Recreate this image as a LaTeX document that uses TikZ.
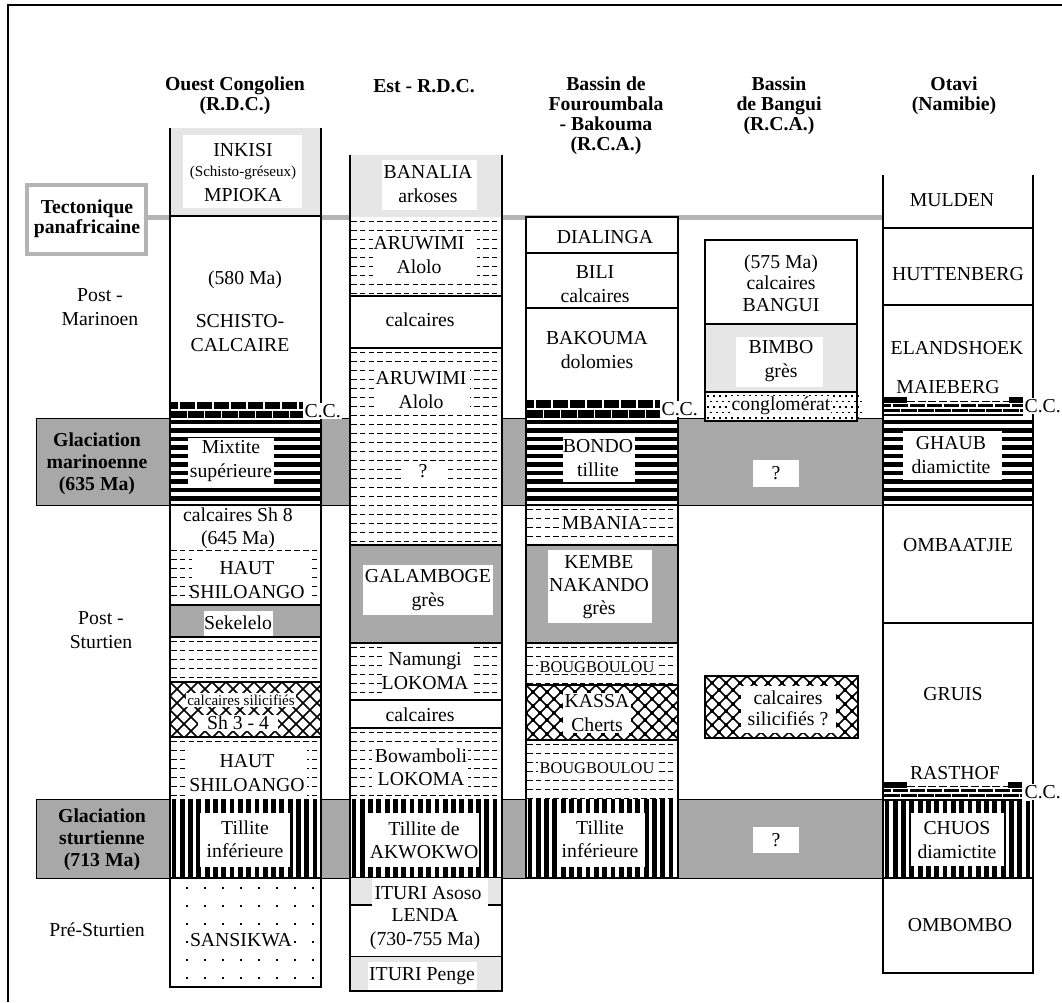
\documentclass[tikz,border=0pt]{standalone}
\usepackage{fontspec}
\setmainfont{Liberation Serif}
\definecolor{ggray}{HTML}{A8A8A8}
\definecolor{mgray}{HTML}{A9A9A9}
\definecolor{lgray}{HTML}{E6E6E6}
\definecolor{tgray}{HTML}{B4B4B4}
\tikzset{
 txt/.style={font=\fontsize{14.8}{17.5}\selectfont, align=center, inner sep=0.5pt},
 txtb/.style={font=\fontsize{14.8}{16}\selectfont, align=center, inner sep=0.5pt},
 smalltxt/.style={font=\fontsize{11.3}{13}\selectfont, align=center, inner sep=0.5pt},
 smalltxtb/.style={font=\fontsize{12.3}{14}\selectfont, align=center, inner sep=1pt},
 head/.style={font=\fontsize{14.8}{15}\selectfont\bfseries, align=center, inner sep=0.5pt},
 glab/.style={font=\fontsize{14.8}{16.5}\selectfont\bfseries, align=center, inner sep=0.5pt},
 lyr/.style={line width=0.8pt},
 ccl/.style={txt, fill=white, anchor=west, inner sep=1pt},
}
% shale: rows of dashes
\newcommand{\myshale}[4]{%
 \begin{scope}
 \clip (#1,#2) rectangle (#3,#4);
 \foreach \k in {0,...,24}{%
  \draw[line width=1.3pt, dash pattern=on 4.2pt off 2.4pt] ({#1+1},{#2+4.5+\k*9}) -- (#3,{#2+4.5+\k*9});
 }
 \end{scope}}
% horizontal black stripes
\newcommand{\myhstripes}[4]{%
 \begin{scope}
 \clip (#1,#2) rectangle (#3,#4);
 \foreach \k in {0,...,14}{\fill ({#1},{#2+1.5+\k*8.5}) rectangle ({#3},{#2+6.2+\k*8.5});}
 \end{scope}}
% vertical black stripes
\newcommand{\myvstripes}[4]{%
 \begin{scope}
 \clip (#1,#2) rectangle (#3,#4);
 \foreach \k in {0,...,20}{\fill ({#1+1.5+\k*8.3},{#2}) rectangle ({#1+6.3+\k*8.3},{#4});}
 \end{scope}}
% crosshatch
\newcommand{\myxhatch}[5]{%
 \begin{scope}
 \clip (#1,#2) rectangle (#3,#4);
 \foreach \k in {-8,...,20}{%
  \draw[line width=1.1pt] ({#1+\k*#5},{#2}) -- ++(200,200);
  \draw[line width=1.1pt] ({#1+\k*#5},{#2}) -- ++(-200,200);}
 \end{scope}}
% crosshatch with dots at nodes
\newcommand{\myxlat}[5]{%
 \myxhatch{#1}{#2}{#3}{#4}{#5}
 \begin{scope}
 \clip (#1,#2) rectangle (#3,#4);
 \foreach \k in {0,...,10}{\foreach \m in {0,...,12}{%
  \fill ({#1+(2*\m+mod(\k,2))*#5/2-1.8},{#2+\k*#5/2-1.8}) rectangle ++(3.6,3.6);}}
 \end{scope}}
% limestone bricks
\newcommand{\mylime}[4]{%
 \begin{scope}
 \clip (#1,#2) rectangle (#3,#4);
 \fill (#1,#2) rectangle (#3,#4);
 \draw[white, line width=0.8pt] (#1,{(#2+#4)/2}) -- (#3,{(#2+#4)/2});
 \foreach \k in {0,...,12}{%
  \draw[white, line width=0.8pt] ({#1+9+\k*17},{#2}) -- ({#1+9+\k*17},{(#2+#4)/2});
  \draw[white, line width=0.8pt] ({#1+17.5+\k*17},{(#2+#4)/2}) -- ({#1+17.5+\k*17},{#4});}
 \end{scope}}
% Otavi cap carbonate
\newcommand{\myotlime}[3]{% x1 y1 x2
 \fill (#1,#2) rectangle ({#1+24},{#2+6});
 \fill ({#3-14},#2) rectangle (#3,{#2+6});
 \draw[line width=1pt, dash pattern=on 6pt off 2pt] ({#1+24},{#2+4.5}) -- ({#3-14},{#2+4.5});
 \mylime{#1}{#2+7}{#3}{#2+15}
 \draw[line width=0.9pt] (#1,{#2+18}) -- (#3,{#2+18});
}
\begin{document}
\begin{tikzpicture}[x=0.75pt,y=-0.75pt]
\useasboundingbox (0,0) rectangle (1062,1002);
\fill[white] (0,0) rectangle (1062,1002);
\draw[line width=1.8pt] (8,1002) -- (8,5) -- (1062,5);

% headers
\node[head] (h1) at (235,96) {Ouest Congolien\\(R.D.C.)};
\node[head] (h2) at (424,86) {Est - R.D.C.};
\node[head] (h3) at (606,116) {Bassin de\\Fouroumbala\\- Bakouma\\(R.C.A.)};
\node[head] (h4) at (779,106) {Bassin\\de Bangui\\(R.C.A.)};
\node[head] (h5) at (954,96) {Otavi\\(Namibie)};

% side labels
\node[txt] (pm) at (100,307) {Post -\\Marinoen};
\node[txt] (ps) at (101,630) {Post -\\Sturtien};
\node[txt] (prs) at (97,930) {Pré-Sturtien};

% tectonique
\draw[tgray, line width=3.75pt] (148,217) -- (883,217);
\draw[tgray, line width=3pt, fill=white] (27,185) rectangle (146,254);
\node[head] (tect) at (87,219) {Tectonique\\panafricaine};

% glaciation bands
\filldraw[fill=ggray, line width=0.75pt] (36,418) rectangle (883,505);
\node[glab] (gm) at (97,464) {Glaciation\\marinoenne\\(635 Ma)};
\filldraw[fill=ggray, line width=0.75pt] (36,799) rectangle (883,878);
\node[glab] (gs) at (102,840) {Glaciation\\sturtienne\\(713 Ma)};

% ===== Column 1 =====
\fill[white] (170,128) rectangle (321,987);
\fill[lgray] (170,128) rectangle (321,216);
\fill[white] (183,135) rectangle (302,208);
\node[txt] (inkisi) at (243,150) {INKISI};
\node[smalltxt] (sg) at (243,173) {(Schisto-gréseux)};
\node[txt] (mpioka) at (243,195) {MPIOKA};
\draw[lyr] (170,216) -- (321,216);
\node[txt] (ma580) at (245,280) {(580 Ma)};
\node[txt] (schc) at (240,333) {SCHISTO-\\CALCAIRE};
\mylime{170}{402}{303}{418}
\myhstripes{170}{418}{321}{505}
\fill[white] (188,438) rectangle (274,485);
\node[txt] (mix) at (231,461) {Mixtite\\supérieure};
\draw[lyr] (170,505) -- (321,505);
\node[txt] (sh8) at (238,528) {calcaires Sh 8\\(645 Ma)};
\myshale{170}{546}{321}{603}
\fill[white] (192,551) rectangle (309,601);
\node[txt] (hs1) at (247,580) {HAUT\\SHILOANGO};
\fill[mgray] (170,605) rectangle (321,637);
\draw[lyr] (170,605) -- (321,605);
\fill[white] (204,611) rectangle (273,636);
\node[txt] (sek) at (238,623) {Sekelelo};
\draw[lyr] (170,637) -- (321,637);
\myshale{170}{637}{321}{682}
\draw[lyr] (170,682) -- (321,682);
\myxhatch{170}{682}{321}{737}{14}
\node[smalltxt, fill=white, inner sep=1pt] (cs1) at (241,700) {calcaires silicifiés};
\node[txt, fill=white, inner xsep=7pt, inner ysep=1pt] (sh34) at (238,723) {Sh 3 - 4};
\draw[lyr] (170,737) -- (321,737);
\myshale{170}{737}{321}{799}
\fill[white] (188,750) rectangle (307,797);
\node[txt] (hs2) at (247,773) {HAUT\\SHILOANGO};
\myvstripes{170}{799}{321}{878}
\fill[white] (200,813) rectangle (290,867);
\node[txt] (til1) at (245,839) {Tillite\\inférieure};
\draw[lyr] (170,878) -- (321,878);
\foreach \i in {0,...,7}{\foreach \j in {0,...,5}{\fill ({187+\i*18-1.1},{888+\j*18-1.1}) rectangle ++(2.2,2.2);}}
\node[txt, fill=white, inner sep=1pt] (sans) at (241,940) {SANSIKWA};
\draw[line width=1.5pt] (170,128) -- (170,987) -- (321,987) -- (321,128);
\node[ccl] (cc1) at (303,411) {C.C.};

% ===== Column 2 =====
\fill[white] (350,155) rectangle (502,991);
\fill[lgray] (350,155) rectangle (502,217);
\fill[white] (382,160) rectangle (477,210);
\node[txt] (banalia) at (428,184) {BANALIA\\arkoses};
\myshale{350}{217}{502}{296}
\fill[white] (373,232) rectangle (477,277);
\node[txt] (aru1) at (419,255) {ARUWIMI\\Alolo};
\draw[lyr] (350,296) -- (502,296);
\node[txt] (calc2a) at (420,320) {calcaires};
\draw[lyr] (350,348) -- (502,348);
\myshale{350}{348}{502}{545}
\fill[white] (376,368) rectangle (470,412);
\node[txt] (aru2) at (421,390) {ARUWIMI\\Alolo};
\fill[white] (404,461) rectangle (446,482);
\node[txt] (q2) at (423,471) {?};
\fill[mgray] (350,545) rectangle (502,643);
\draw[lyr] (350,545) -- (502,545);
\fill[white] (363,565) rectangle (493,615);
\node[txt] (gal) at (428,590) {GALAMBOGE\\grès};
\draw[lyr] (350,643) -- (502,643);
\myshale{350}{643}{502}{700}
\fill[white] (382,646) rectangle (474,698);
\node[txt] (nam) at (425,671) {Namungi\\LOKOMA};
\draw[lyr] (350,700) -- (502,700);
\node[txt] (calc2b) at (420,715) {calcaires};
\draw[lyr] (350,728) -- (502,728);
\myshale{350}{728}{502}{799}
\fill[white] (372,743) rectangle (468,789);
\node[txt] (bow) at (421,767) {Bowamboli\\LOKOMA};
\myvstripes{350}{799}{502}{878}
\fill[white] (368,813) rectangle (479,867);
\node[txt] (akw) at (424,840) {Tillite de\\AKWOKWO};
\draw[lyr] (350,878) -- (502,878);
\fill[lgray] (350,878) rectangle (502,905);
\fill[white] (372,878) rectangle (488,906);
\draw[lyr] (350,905) -- (372,905) (488,905) -- (502,905);
\node[txt] (itu1) at (428,893) {ITURI Asoso};
\node[txt] (lenda) at (425,929) {LENDA\\(730-755 Ma)};
\draw[lyr] (350,957) -- (502,957);
\fill[lgray] (350,957) rectangle (502,991);
\fill[white] (368,962) rectangle (477,990);
\node[txt] (itu2) at (422,976) {ITURI Penge};
\draw[line width=1.5pt] (350,155) -- (350,991) -- (502,991) -- (502,155);

% ===== Column 3 =====
\fill[white] (526,217) rectangle (678,878);
\node[txt] (dia) at (605,237) {DIALINGA};
\draw[lyr] (526,253) -- (678,253);
\node[txt] (bili) at (595,284) {BILI\\calcaires};
\draw[lyr] (526,308) -- (678,308);
\node[txt] (bak) at (597,350) {BAKOUMA\\dolomies};
\mylime{526}{400}{660}{418}
\myhstripes{526}{418}{678}{505}
\fill[white] (563,433) rectangle (635,482);
\node[txt] (bondo) at (598,458) {BONDO\\tillite};
\draw[lyr] (526,505) -- (678,505);
\myshale{526}{505}{678}{545}
\node[txt, fill=white, inner sep=1pt] (mban) at (602,523) {MBANIA};
\fill[mgray] (526,545) rectangle (678,643);
\draw[lyr] (526,545) -- (678,545);
\fill[white] (548,550) rectangle (652,623);
\node[txt] (kembe) at (599,587) {KEMBE\\NAKANDO\\grès};
\draw[lyr] (526,643) -- (678,643);
\myshale{526}{643}{678}{685}
\node[smalltxtb, fill=white] (boug1) at (597,667) {BOUGBOULOU};
\draw[lyr] (526,685) -- (678,685);
\myxlat{526}{685}{678}{740}{14}
\node[txt, fill=white, inner sep=1pt] (kassa) at (597,713) {KASSA\\Cherts};
\draw[lyr] (526,740) -- (678,740);
\myshale{526}{740}{678}{799}
\node[smalltxtb, fill=white] (boug2) at (597,768) {BOUGBOULOU};
\myvstripes{526}{799}{678}{878}
\fill[white] (557,813) rectangle (645,867);
\node[txt] (til3) at (600,839) {Tillite\\inférieure};
\draw[line width=1pt] (526,217) rectangle (678,878);
\node[ccl] (cc3) at (660,409) {C.C.};

% ===== Column 4 =====
\fill[white] (705,240) rectangle (857,421);
\node[txtb] (bangui) at (781,283) {(575 Ma)\\calcaires\\BANGUI};
\fill[lgray] (705,324) rectangle (857,392);
\draw[lyr] (705,324) -- (857,324);
\fill[white] (736,337) rectangle (823,387);
\node[txt] (bimbo) at (781,361) {BIMBO\\grès};
\draw[lyr] (705,392) -- (857,392);
\foreach \i in {0,...,25}{\foreach \j in {0,...,4}{\fill ({707+\i*6+mod(\j,2)*3},{395+\j*5.5}) rectangle ++(1.7,1.7);}}
\node[txt, fill=white, inner sep=0.5pt] (cong) at (781,406) {conglomérat};
\draw[line width=1pt] (705,240) rectangle (857,421);
\fill[white] (753,460) rectangle (799,487);
\node[txt] (q4a) at (776,473) {?};
\fill[white] (753,827) rectangle (799,853);
\node[txt] (q4b) at (776,840) {?};
\fill[white] (705,676) rectangle (858,738);
\myxlat{705}{676}{858}{738}{14}
\fill[white] (741,686) rectangle (836,733);
\node[txtb] (cs4) at (788,708) {calcaires\\silicifiés ?};
\draw[line width=1.3pt] (705,676) rectangle (858,738);

% ===== Column 5 =====
\fill[white] (883,175) rectangle (1033,973);
\node[txt] (mulden) at (952,200) {MULDEN};
\draw[lyr] (883,228) -- (1033,228);
\node[txt] (hut) at (958,274) {HUTTENBERG};
\draw[lyr] (883,305) -- (1033,305);
\node[txt] (eland) at (957,348) {ELANDSHOEK};
\node[txt] (maie) at (948,387) {MAIEBERG};
\myotlime{883}{397}{1023}
\myhstripes{883}{418}{1033}{505}
\fill[white] (903,431) rectangle (1002,480);
\node[txt] (ghaub) at (951,455) {GHAUB\\diamictite};
\draw[lyr] (883,505) -- (1033,505);
\node[txt] (omba) at (958,545) {OMBAATJIE};
\draw[lyr] (883,623) -- (1033,623);
\node[txt] (gruis) at (953,694) {GRUIS};
\node[txt] (rast) at (955,773) {RASTHOF};
\myotlime{883}{782}{1022}
\myvstripes{883}{801}{1033}{878}
\fill[white] (911,813) rectangle (1004,866);
\node[txt] (chuos) at (957,840) {CHUOS\\diamictite};
\draw[lyr] (883,878) -- (1033,878);
\node[txt] (omb) at (960,925) {OMBOMBO};
\draw[line width=1.2pt] (883,175) -- (883,973) -- (1033,973) -- (1033,175);
\node[ccl] (cc5a) at (1023,406) {C.C.};
\node[ccl] (cc5b) at (1023,792) {C.C.};
\end{tikzpicture}
\end{document}
